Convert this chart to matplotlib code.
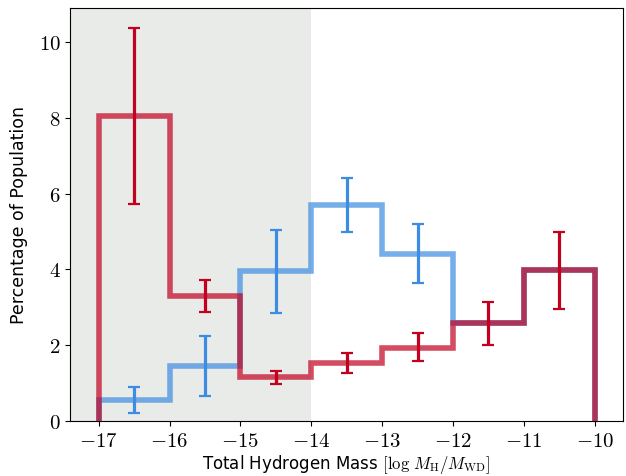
import numpy as np
import matplotlib
matplotlib.use("Agg")
import matplotlib.pyplot as plt
from matplotlib.ticker import FuncFormatter

# bin edges in log(M_H/M_WD)
edges = [-17, -16, -15, -14, -13, -12, -11, -10]
centers = [-16.5, -15.5, -14.5, -13.5, -12.5, -11.5, -10.5]

# blue population (percent), with asymmetric errors
blue_pct = [0.55, 1.46, 3.95, 5.70, 4.41, 2.60, 3.98]
blue_hi = [0.89, 2.25, 5.05, 6.41, 5.19, 3.15, 5.00]
blue_lo = [0.22, 0.67, 2.85, 5.00, 3.64, 2.01, 2.96]

# red population (percent)
red_pct = [8.06, 3.30, 1.17, 1.52, 1.94, 2.60, 3.98]
red_hi = [10.37, 3.71, 1.33, 1.80, 2.31, 3.15, 5.00]
red_lo = [5.74, 2.87, 0.98, 1.28, 1.58, 2.01, 2.96]

plt.rcParams['mathtext.fontset'] = 'cm'
plt.rcParams['font.family'] = ['DejaVu Sans']

blue_err_c = '#3c8ce2'
red_err_c = '#c2001f'

fig = plt.figure(figsize=(6.26, 4.76), dpi=100)
ax = fig.add_axes([0.1123, 0.1155, 0.8829, 0.8677])

ax.axvspan(-18, -14, color='#e9ebe8', lw=0, zorder=0)

ax.stairs(blue_pct, edges, color=blue_err_c, alpha=0.7, lw=4, zorder=2)
b = np.array(blue_pct)
ax.errorbar(centers[:5], blue_pct[:5],
            yerr=[b[:5] - np.array(blue_lo[:5]), np.array(blue_hi[:5]) - b[:5]],
            fmt='none', ecolor=blue_err_c, elinewidth=2.3, capsize=4.5, capthick=1.6, zorder=3)

ax.stairs(red_pct, edges, color=red_err_c, alpha=0.7, lw=4, zorder=4)
r = np.array(red_pct)
ax.errorbar(centers, red_pct,
            yerr=[r - np.array(red_lo), np.array(red_hi) - r],
            fmt='none', ecolor=red_err_c, elinewidth=2.3, capsize=4.5, capthick=1.6, zorder=5)

ax.set_xlim(-17.4, -9.6)
ax.set_ylim(0, 10.9)
ax.set_xticks(np.arange(-17, -9))
ax.set_yticks([0, 2, 4, 6, 8, 10])
fmt = FuncFormatter(lambda v, p: r'$%d$' % round(v))
ax.xaxis.set_major_formatter(fmt)
ax.yaxis.set_major_formatter(fmt)
ax.tick_params(labelsize=15)
ax.set_xlabel(r'Total Hydrogen Mass $[\log\,M_{\rm H}/M_{\rm WD}]$', fontsize=12)
ax.set_ylabel('Percentage of Population', fontsize=12.5)
ax.xaxis.set_label_coords(0.5, -0.077)
ax.yaxis.set_label_coords(-0.077, 0.5)

fig.savefig('out.png', dpi=100)
